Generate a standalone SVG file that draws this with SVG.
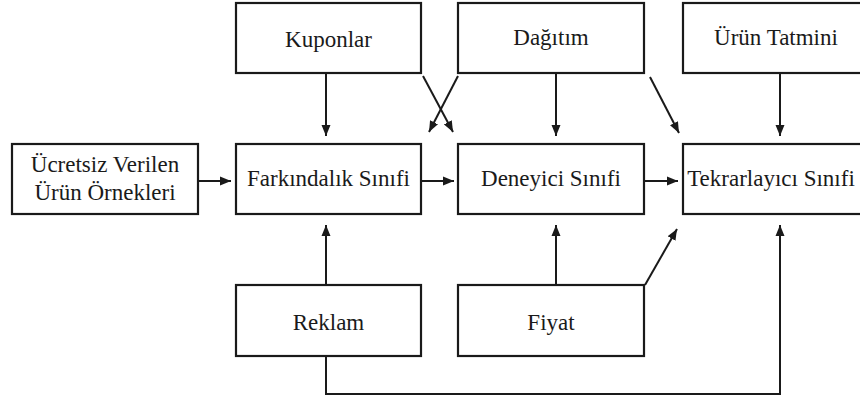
<svg xmlns="http://www.w3.org/2000/svg" width="860" height="401" viewBox="0 0 860 401">
<style>
.box{fill:#fff;stroke:#1a1a1a;stroke-width:2.2}
.t{font-family:'Liberation Serif',serif;font-size:23px;fill:#1a1a1a;text-anchor:middle}
.c{fill:none;stroke:#1a1a1a;stroke-width:2;marker-end:url(#ah)}
</style>
<defs>
<marker id="ah" markerUnits="userSpaceOnUse" markerWidth="12" markerHeight="10" refX="11" refY="5" orient="auto">
<path d="M0,0.5 L11,5 L0,9.5 z" fill="#1a1a1a"/>
</marker>
</defs>
<rect width="860" height="401" fill="#fff"/>
<g id="kuponlar"><rect class="box" x="236" y="3" width="185" height="70"/><text class="t" font-family="Liberation Serif,serif" x="328.5" y="47">Kuponlar</text></g>
<g id="dagitim"><rect class="box" x="458" y="3" width="186" height="70"/><text class="t" font-family="Liberation Serif,serif" x="551" y="45">Dağıtım</text></g>
<g id="urun-tatmini"><rect class="box" x="683" y="3" width="186" height="70"/><text class="t" font-family="Liberation Serif,serif" x="776" y="45">Ürün Tatmini</text></g>
<g id="ucretsiz"><rect class="box" x="12" y="144" width="186" height="70"/><text class="t" font-family="Liberation Serif,serif" x="105" y="172">Ücretsiz Verilen</text><text class="t" font-family="Liberation Serif,serif" x="105" y="200">Ürün Örnekleri</text></g>
<g id="farkindalik"><rect class="box" x="236" y="144" width="185" height="70"/><text class="t" font-family="Liberation Serif,serif" x="328.5" y="186">Farkındalık Sınıfi</text></g>
<g id="deneyici"><rect class="box" x="458" y="144" width="186" height="70"/><text class="t" font-family="Liberation Serif,serif" x="551" y="186">Deneyici Sınıfi</text></g>
<g id="tekrarlayici"><rect class="box" x="683" y="144" width="186" height="70"/><text class="t" font-family="Liberation Serif,serif" x="771" y="186">Tekrarlayıcı Sınıfi</text></g>
<g id="reklam"><rect class="box" x="236" y="285" width="185" height="71"/><text class="t" font-family="Liberation Serif,serif" x="328.5" y="330">Reklam</text></g>
<g id="fiyat"><rect class="box" x="458" y="285" width="186" height="71"/><text class="t" font-family="Liberation Serif,serif" x="551" y="330">Fiyat</text></g>
<g id="connectors">
<line class="c" x1="326" y1="73" x2="326" y2="136"/>
<line class="c" x1="556" y1="73" x2="556" y2="136"/>
<line class="c" x1="780" y1="73" x2="780" y2="136"/>
<line class="c" x1="423" y1="76" x2="453" y2="132"/>
<line class="c" x1="458" y1="76" x2="429" y2="132"/>
<line class="c" x1="650" y1="77" x2="679" y2="133"/>
<line class="c" x1="198" y1="181" x2="231" y2="181"/>
<line class="c" x1="421" y1="181" x2="454" y2="181"/>
<line class="c" x1="644" y1="181" x2="678" y2="181"/>
<line class="c" x1="326" y1="285" x2="326" y2="225"/>
<line class="c" x1="556" y1="285" x2="556" y2="225"/>
<line class="c" x1="645" y1="285" x2="677" y2="229"/>
<polyline class="c" points="326,356 326,394 780,394 780,225"/>
</g>
</svg>
